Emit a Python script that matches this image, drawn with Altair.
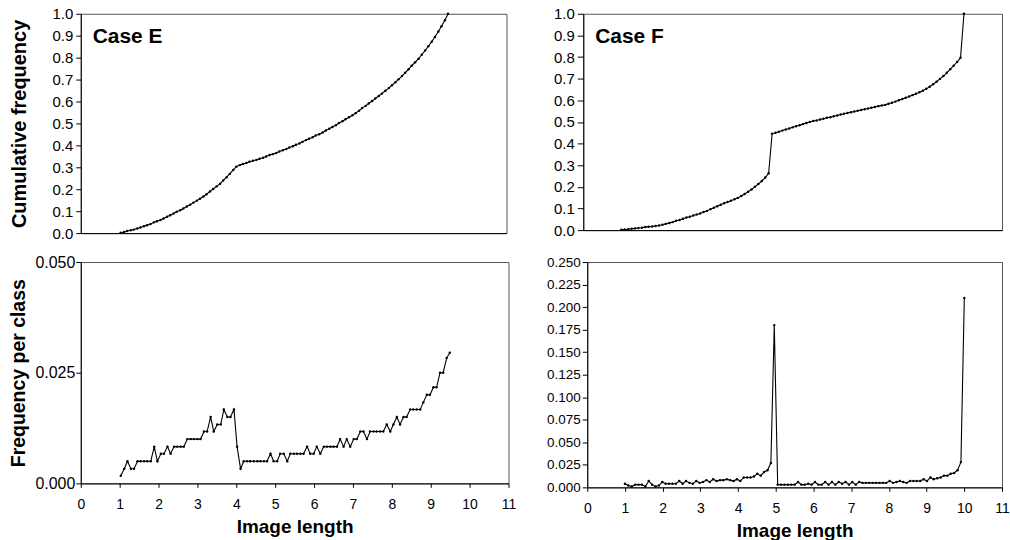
import altair as alt
import pandas as pd

FONT = "Liberation Sans"

# ---------------- data ----------------
case_labels = ["Case E", "Case F"]

e_x = [1.03, 1.12, 1.20, 1.29, 1.37, 1.46, 1.54, 1.63, 1.71, 1.80,
       1.89, 1.97, 2.06, 2.14, 2.23, 2.31, 2.40, 2.48, 2.57, 2.65,
       2.74, 2.83, 2.91, 3.00, 3.08, 3.17, 3.25, 3.34, 3.42, 3.51,
       3.60, 3.68, 3.77, 3.85, 3.94, 4.02, 4.11, 4.19, 4.28, 4.36,
       4.45, 4.54, 4.62, 4.71, 4.79, 4.88, 4.96, 5.05, 5.13, 5.22,
       5.31, 5.39, 5.48, 5.56, 5.65, 5.73, 5.82, 5.90, 5.99, 6.07,
       6.16, 6.25, 6.33, 6.42, 6.50, 6.59, 6.67, 6.76, 6.84, 6.93,
       7.02, 7.10, 7.19, 7.27, 7.36, 7.44, 7.53, 7.61, 7.70, 7.78,
       7.87, 7.96, 8.04, 8.13, 8.21, 8.30, 8.38, 8.47, 8.55, 8.64,
       8.73, 8.81, 8.90, 8.98, 9.07, 9.15, 9.24, 9.32, 9.41, 9.49]

e_freq = [0.0017, 0.0033, 0.0050, 0.0033, 0.0033, 0.0050, 0.0050, 0.0050, 0.0050, 0.0050,
          0.0083, 0.0050, 0.0067, 0.0067, 0.0083, 0.0067, 0.0083, 0.0083, 0.0083, 0.0083,
          0.0100, 0.0100, 0.0100, 0.0100, 0.0100, 0.0117, 0.0117, 0.0150, 0.0117, 0.0133,
          0.0133, 0.0167, 0.0150, 0.0150, 0.0167, 0.0083, 0.0033, 0.0050, 0.0050, 0.0050,
          0.0050, 0.0050, 0.0050, 0.0050, 0.0050, 0.0067, 0.0050, 0.0050, 0.0067, 0.0067,
          0.0050, 0.0067, 0.0067, 0.0067, 0.0067, 0.0067, 0.0083, 0.0067, 0.0067, 0.0083,
          0.0067, 0.0083, 0.0083, 0.0083, 0.0083, 0.0083, 0.0100, 0.0083, 0.0100, 0.0083,
          0.0100, 0.0100, 0.0117, 0.0117, 0.0100, 0.0117, 0.0117, 0.0117, 0.0117, 0.0117,
          0.0133, 0.0117, 0.0133, 0.0150, 0.0133, 0.0150, 0.0150, 0.0167, 0.0167, 0.0167,
          0.0167, 0.0183, 0.0200, 0.0200, 0.0217, 0.0217, 0.0250, 0.0250, 0.0283, 0.0295]

e_cum = [0.002, 0.005, 0.010, 0.013, 0.016, 0.021, 0.026, 0.031, 0.036, 0.041,
         0.049, 0.054, 0.060, 0.067, 0.075, 0.081, 0.089, 0.097, 0.104, 0.112,
         0.121, 0.130, 0.139, 0.148, 0.157, 0.167, 0.177, 0.190, 0.201, 0.213,
         0.225, 0.240, 0.255, 0.270, 0.288, 0.303, 0.310, 0.315, 0.320, 0.325,
         0.330, 0.334, 0.339, 0.344, 0.349, 0.356, 0.360, 0.365, 0.372, 0.378,
         0.383, 0.390, 0.396, 0.403, 0.409, 0.416, 0.424, 0.430, 0.437, 0.445,
         0.451, 0.459, 0.468, 0.476, 0.484, 0.492, 0.502, 0.510, 0.519, 0.528,
         0.537, 0.547, 0.558, 0.570, 0.580, 0.591, 0.602, 0.614, 0.625, 0.636,
         0.649, 0.661, 0.674, 0.688, 0.701, 0.716, 0.731, 0.747, 0.763, 0.779,
         0.795, 0.813, 0.833, 0.852, 0.873, 0.894, 0.919, 0.943, 0.971, 1.000]

f_x = [1.00, 1.09, 1.18, 1.27, 1.36, 1.45, 1.54, 1.63, 1.72, 1.81,
       1.90, 1.99, 2.08, 2.17, 2.26, 2.35, 2.44, 2.53, 2.62, 2.71,
       2.80, 2.89, 2.98, 3.07, 3.16, 3.25, 3.34, 3.43, 3.52, 3.61,
       3.70, 3.79, 3.88, 3.97, 4.06, 4.15, 4.24, 4.33, 4.42, 4.51,
       4.60, 4.69, 4.78, 4.87, 4.96, 5.05, 5.14, 5.23, 5.32, 5.41,
       5.50, 5.59, 5.68, 5.77, 5.86, 5.95, 6.04, 6.13, 6.22, 6.31,
       6.40, 6.49, 6.58, 6.67, 6.76, 6.85, 6.94, 7.03, 7.12, 7.21,
       7.30, 7.39, 7.48, 7.57, 7.66, 7.75, 7.84, 7.93, 8.02, 8.11,
       8.20, 8.29, 8.38, 8.47, 8.56, 8.65, 8.74, 8.83, 8.92, 9.01,
       9.10, 9.19, 9.28, 9.37, 9.46, 9.55, 9.64, 9.73, 9.82, 9.91,
       10.00]

f_freq = [0.004, 0.002, 0.001, 0.003, 0.003, 0.003, 0.001, 0.007, 0.003, 0.001,
          0.002, 0.006, 0.004, 0.004, 0.004, 0.004, 0.007, 0.004, 0.007, 0.005,
          0.004, 0.007, 0.005, 0.006, 0.008, 0.006, 0.009, 0.007, 0.008, 0.008,
          0.009, 0.008, 0.007, 0.009, 0.007, 0.011, 0.011, 0.011, 0.012, 0.015,
          0.013, 0.017, 0.019, 0.027, 0.180, 0.003, 0.003, 0.003, 0.003, 0.003,
          0.003, 0.006, 0.003, 0.003, 0.004, 0.003, 0.006, 0.003, 0.003, 0.006,
          0.003, 0.006, 0.003, 0.006, 0.004, 0.006, 0.003, 0.006, 0.003, 0.006,
          0.005, 0.005, 0.005, 0.005, 0.005, 0.005, 0.005, 0.005, 0.007, 0.005,
          0.006, 0.007, 0.006, 0.005, 0.007, 0.007, 0.007, 0.007, 0.009, 0.007,
          0.011, 0.009, 0.010, 0.011, 0.013, 0.013, 0.015, 0.016, 0.019, 0.028,
          0.210]

f_cum = [0.002, 0.003, 0.004, 0.006, 0.008, 0.010, 0.011, 0.014, 0.016, 0.017,
         0.019, 0.021, 0.025, 0.029, 0.033, 0.037, 0.043, 0.047, 0.053, 0.058,
         0.062, 0.068, 0.072, 0.077, 0.084, 0.089, 0.097, 0.103, 0.110, 0.117,
         0.124, 0.130, 0.136, 0.143, 0.149, 0.158, 0.167, 0.177, 0.188, 0.201,
         0.213, 0.227, 0.243, 0.263, 0.445, 0.450, 0.455, 0.460, 0.465, 0.470,
         0.475, 0.480, 0.485, 0.490, 0.495, 0.500, 0.504, 0.507, 0.511, 0.515,
         0.519, 0.522, 0.526, 0.530, 0.534, 0.538, 0.541, 0.545, 0.548, 0.552,
         0.555, 0.559, 0.562, 0.566, 0.569, 0.573, 0.576, 0.579, 0.584, 0.589,
         0.594, 0.600, 0.606, 0.612, 0.618, 0.624, 0.630, 0.637, 0.644, 0.653,
         0.663, 0.674, 0.686, 0.699, 0.712, 0.727, 0.744, 0.760, 0.777, 0.797,
         1.000]

x_ticks = [0, 1, 2, 3, 4, 5, 6, 7, 8, 9, 10, 11]
cum_ticks = [0.0, 0.1, 0.2, 0.3, 0.4, 0.5, 0.6, 0.7, 0.8, 0.9, 1.0]
e_freq_ticks = [0.0, 0.025, 0.05]
f_freq_ticks = [0.0, 0.025, 0.05, 0.075, 0.1, 0.125, 0.15, 0.175, 0.2, 0.225, 0.25]


def panel(xs, ys, yticks, ydom, yfmt, w, h, bottom, ytitle, lab_size,
          lab_pad, tick_size, title_pad, title_size=19, case=None):
    df = pd.DataFrame({"x": xs, "y": ys})
    if bottom:
        xaxis = alt.Axis(values=x_ticks, format="d", labelFontSize=14,
                         tickSize=4, labelPadding=10, title="Image length",
                         titleFontSize=19, titleFontWeight="bold",
                         titlePadding=6, grid=False, labelFlush=False)
    else:
        xaxis = alt.Axis(values=x_ticks, labels=False, ticks=False,
                         title=None, grid=False)
    yargs = dict(values=yticks, format=yfmt, labelFontSize=lab_size,
                 labelPadding=lab_pad, tickSize=tick_size, grid=False)
    if ytitle:
        yargs.update(title=ytitle, titleFontSize=title_size,
                     titleFontWeight="bold", titlePadding=title_pad)
    else:
        yargs.update(title=None)
    line = alt.Chart(df).mark_line(
        color="black", strokeWidth=1.1,
        point=alt.OverlayMarkDef(filled=True, color="black", size=6)
    ).encode(
        x=alt.X("x:Q", scale=alt.Scale(domain=[0, 11], nice=False, zero=False),
                axis=xaxis),
        y=alt.Y("y:Q", scale=alt.Scale(domain=ydom, nice=False),
                axis=alt.Axis(**yargs)),
    )
    layers = [line]
    if case is not None:
        tdf = pd.DataFrame({"t": [case]})
        txt = alt.Chart(tdf).mark_text(
            align="left", baseline="alphabetic", fontSize=21,
            fontWeight="bold", font=FONT, color="black"
        ).encode(x=alt.value(12), y=alt.value(29), text="t:N")
        layers.append(txt)
    return alt.layer(*layers).properties(width=w, height=h)


tl = panel(e_x, e_cum, cum_ticks, [0, 1], ".1f", 427, 220, False,
           "Cumulative frequency", 15, 3, 5, 23, 20, case_labels[0])
tr = panel(f_x, f_cum, cum_ticks, [0, 1], ".1f", 420, 217, False,
           None, 15, 3, 6, 0, 19, case_labels[1])
bl = panel(e_x, e_freq, e_freq_ticks, [0, 0.05], ".3f", 429, 222, True,
           "Frequency per class", 16, 1, 5, 6, 19.5)
br = panel(f_x, f_freq, f_freq_ticks, [0, 0.25], ".3f", 416, 226, True,
           None, 13.5, 2, 5, 0)

row1 = alt.hconcat(tl, tr, spacing=45)
row2 = alt.hconcat(bl, br, spacing=29)

chart = alt.vconcat(row1, row2, spacing=11).properties(
    padding={"left": 8, "top": 5, "right": 0, "bottom": 0},
    background="white",
).configure_view(
    stroke="#555555", strokeWidth=1
).configure_axis(
    domainColor="black", tickColor="black", labelColor="black",
    titleColor="black", labelFont=FONT, titleFont=FONT, domainWidth=1
)

chart.save("out.html", embed_options={"renderer": "svg", "actions": False})
